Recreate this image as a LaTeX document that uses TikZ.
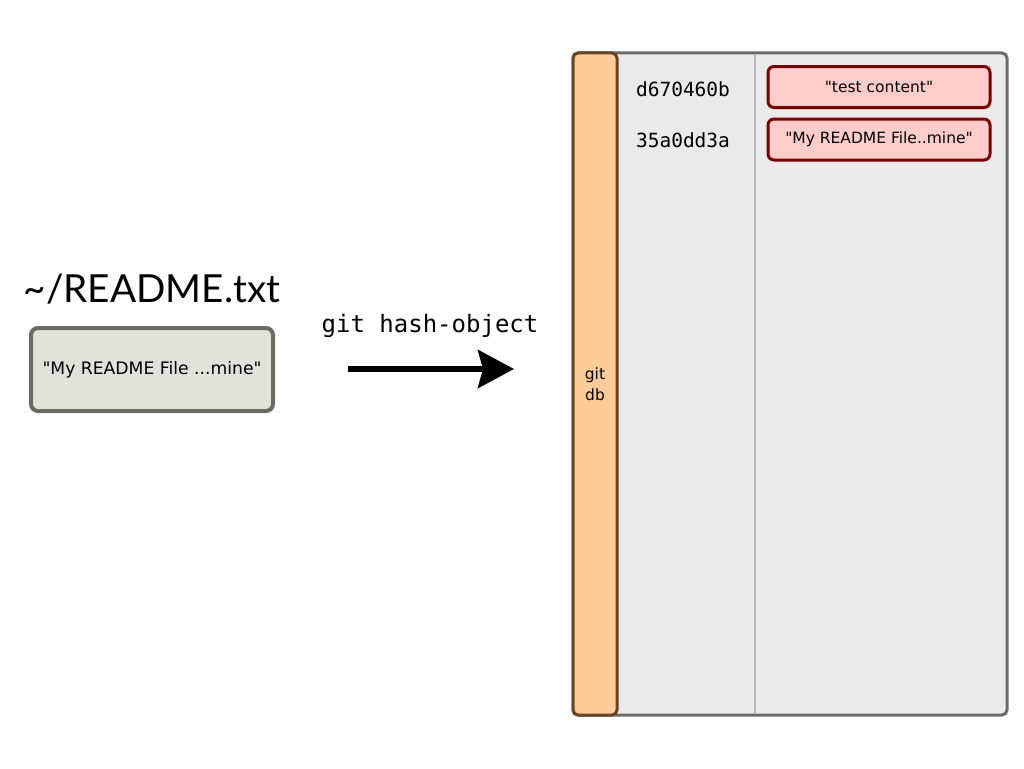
\documentclass[tikz,border=0pt]{standalone}
\usepackage{fontspec}
\setmainfont{DejaVu Sans}[Ligatures=TeXOff]
\newfontfamily\monof{DejaVu Sans Mono}
\newfontfamily\titlef{Lato}
\usetikzlibrary{arrows.meta}
\definecolor{panelfill}{HTML}{EAEAEA}
\definecolor{paneldraw}{HTML}{6B6B6B}
\definecolor{barfill}{HTML}{FFCC99}
\definecolor{bardraw}{HTML}{6B4226}
\definecolor{objfill}{HTML}{FFCCCC}
\definecolor{objdraw}{HTML}{770000}
\definecolor{filefill}{HTML}{E1E3DB}
\definecolor{filedraw}{HTML}{6B6B66}
\definecolor{divider}{HTML}{BBBBBB}
\tikzset{
  objbox/.style={draw=objdraw, fill=objfill, line width=3pt, rounded corners=6pt,
    minimum width=222pt, minimum height=41pt, inner sep=0pt, font=\fontsize{15.5}{17}\selectfont},
  hashtxt/.style={font=\monof\fontsize{19.5}{21}\selectfont, inner sep=0pt},
}
\begin{document}
\begin{tikzpicture}[x=1pt,y=-1pt]
\useasboundingbox (0,0) rectangle (1024,768);
% panel
\node[draw=paneldraw, fill=panelfill, line width=3pt, rounded corners=5pt,
  minimum width=434pt, minimum height=662pt, inner sep=0pt] (panel) at (790,384) {};
\draw[divider, line width=1.5pt] (755,54) coordinate (dtop) -- (755,714) coordinate (dbot);
\node[draw=bardraw, fill=barfill, line width=3pt, rounded corners=5pt,
  minimum width=44pt, minimum height=662pt, inner sep=0pt, align=center,
  font=\fontsize{15.5}{21}\selectfont] (bar) at (595,384) {git\\db};
% objects
\node[hashtxt] (h1) at (683,89) {d670460b};
\node[hashtxt] (h2) at (683,140) {35a0dd3a};
\node[objbox] (o1) at (879,87) {"test content"};
\node[objbox] (o2) at (879,139.5) {"My README File..mine"};
% left
\node[font=\titlef\fontsize{38.7}{42}\selectfont, inner sep=0pt] (title) at (152,289) {\textasciitilde/README.txt};
\node[draw=filedraw, fill=filefill, line width=4pt, rounded corners=7pt,
  minimum width=242pt, minimum height=83pt, inner sep=0pt,
  font=\fontsize{17.2}{19}\selectfont] (file) at (152,369.5) {"My README File ...mine"};
\node[font=\monof\fontsize{24}{26}\selectfont, inner sep=0pt] (cmd) at (430,326) {git hash-object};
\coordinate (as) at (348,369);
\coordinate (ae) at (514,369);
\draw[line width=6pt, -{Stealth[length=36pt,width=38pt,inset=5pt]}] (as) -- (ae);
\end{tikzpicture}
\end{document}
